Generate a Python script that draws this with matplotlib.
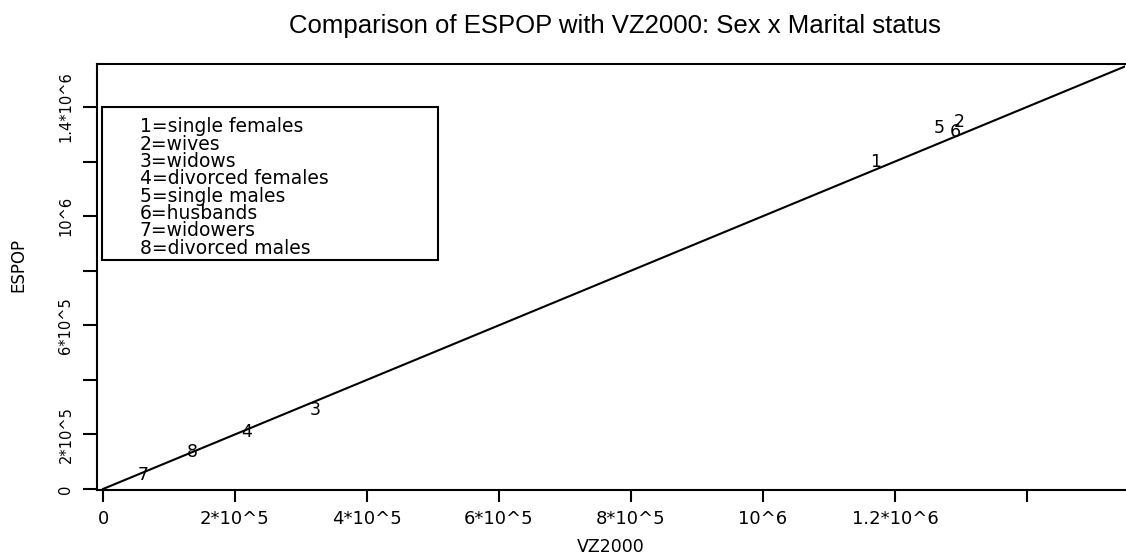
import matplotlib
matplotlib.use("Agg")
import matplotlib.pyplot as plt
from matplotlib.patches import Rectangle

# values
codes = ['1', '2', '3', '4', '5', '6', '7', '8']
groups = ['single females', 'wives', 'widows', 'divorced females',
          'single males', 'husbands', 'widowers', 'divorced males']
vz2000 = [1170000, 1298000, 321000, 218000, 1267000, 1291000, 61000, 135000]
espop = [1198000, 1345000, 289000, 209000, 1323000, 1308000, 51000, 136000]

diag = [0, 1548500]

xticks = [0, 200000, 400000, 600000, 800000, 1000000, 1200000, 1400000]
xticklabels = ['0', '2*10^5', '4*10^5', '6*10^5', '8*10^5', '10^6', '1.2*10^6', '']
yticks = [0, 200000, 400000, 600000, 800000, 1000000, 1200000, 1400000]
yticklabels = ['0', '2*10^5', '', '6*10^5', '', '10^6', '', '1.4*10^6']

W, H = 1126, 554
fig = plt.figure(figsize=(W / 100, H / 100), dpi=100)
ax = fig.add_axes([97 / W, 1 - 490 / H, (1125 - 97) / W, 426 / H])

ax.plot(diag, diag, color='black', lw=1.5)
for c, x, y in zip(codes, vz2000, espop):
    ax.text(x, y, c, ha='center', va='center', fontsize=12.5,
            family='DejaVu Sans')

ax.set_xlim(-9091, 1548500)
ax.set_ylim(-3664, 1557400)

ax.set_xticks(xticks)
ax.set_xticklabels(xticklabels, fontsize=13, family='DejaVu Sans')
ax.set_yticks(yticks)
ax.set_yticklabels(yticklabels, fontsize=10.5, family='DejaVu Sans',
                   rotation=90, va='center')
ax.tick_params(axis='x', length=8.6, width=1.5, pad=6)
ax.tick_params(axis='y', length=10, width=1.5, pad=7)

for s in ['left', 'bottom', 'top']:
    ax.spines[s].set_linewidth(1.5)
ax.spines['right'].set_visible(False)

# key box
ax.add_patch(Rectangle((0.0049, 0.540), 0.3268, 0.359, transform=ax.transAxes,
                       fill=False, lw=1.5, color='black'))
for i, (c, g) in enumerate(zip(codes, groups)):
    y = (490 - (127 + 17.3 * i)) / 426
    ax.text(0.0418, y, c + '=' + g, transform=ax.transAxes, ha='left',
            va='center', fontsize=13.5, family='DejaVu Sans')

fig.text(615 / W, 1 - 33 / H, 'Comparison of ESPOP with VZ2000: Sex x Marital status',
         ha='center', va='baseline', fontsize=18.5, family='Liberation Sans')
fig.text(611 / W, 1 - 547 / H, 'VZ2000', ha='center', va='center',
         fontsize=12.5, family='DejaVu Sans')
fig.text(18.5 / W, 1 - 265 / H, 'ESPOP', ha='center', va='center',
         rotation=90, fontsize=12, family='DejaVu Sans')

fig.savefig('out.png', dpi=100)
